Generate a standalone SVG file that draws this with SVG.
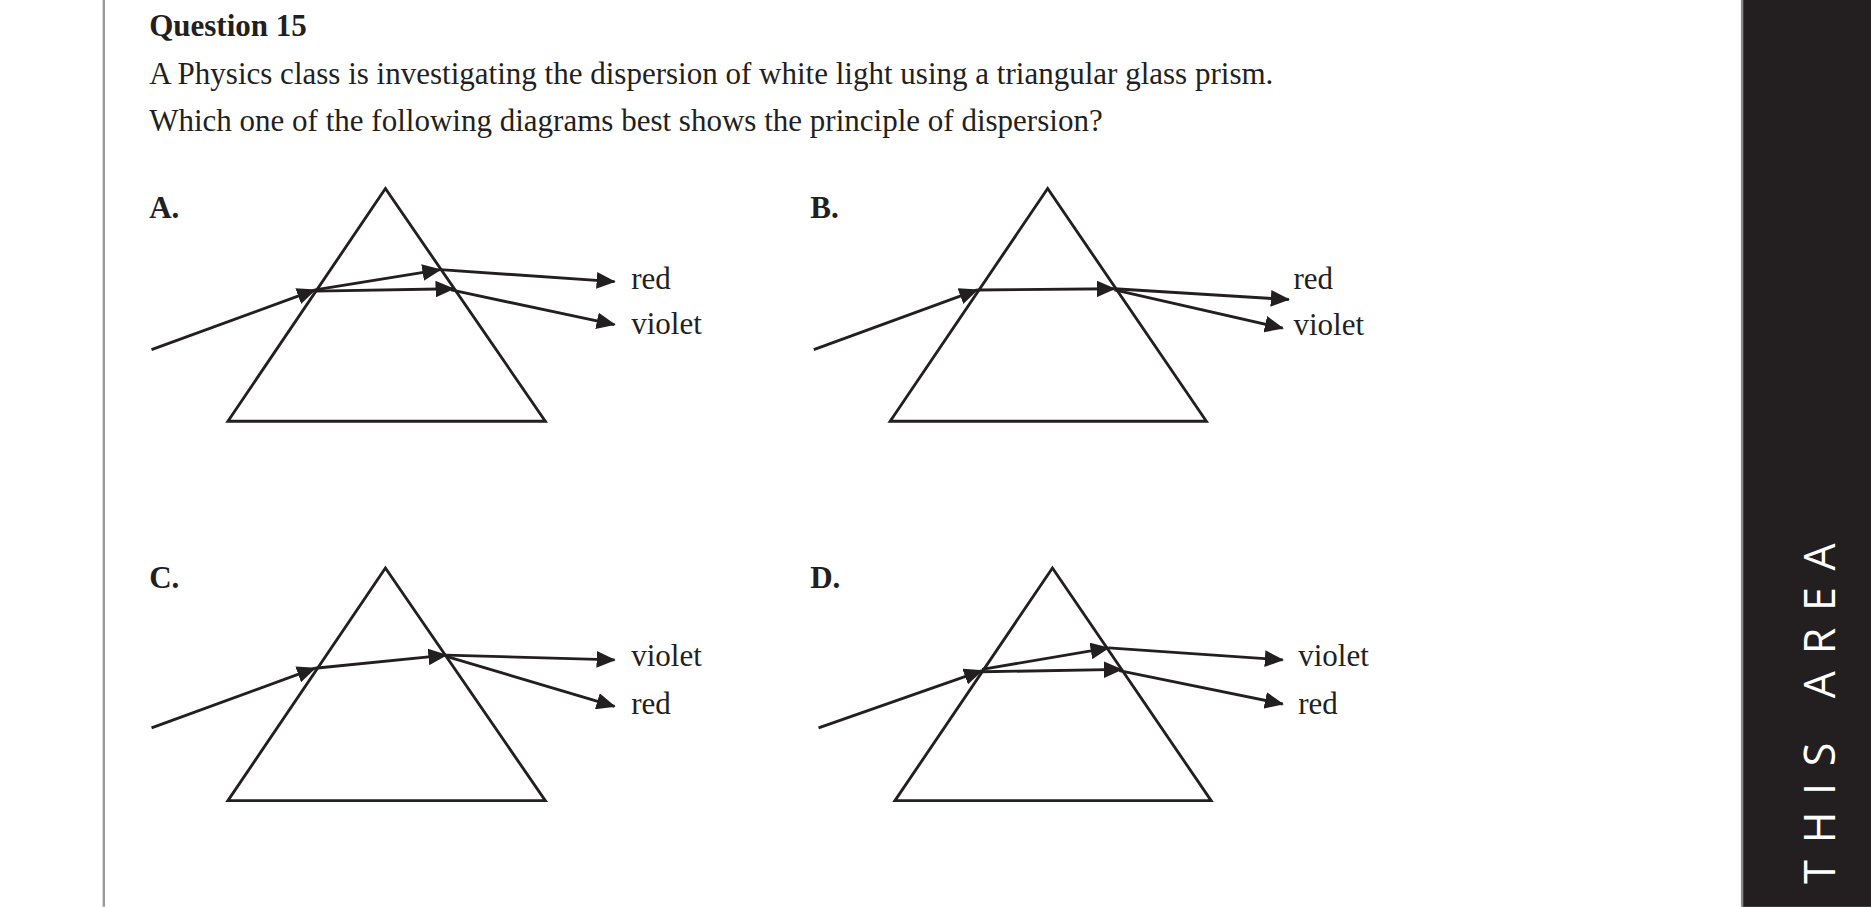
<svg xmlns="http://www.w3.org/2000/svg" width="1871" height="907" viewBox="0 0 1871 907">
<defs>
<marker id="ah" viewBox="0 0 16 14" refX="15" refY="7" markerWidth="16" markerHeight="14" markerUnits="userSpaceOnUse" orient="auto"><path d="M0,0 L16,7 L0,14 Z" fill="#231f20"/></marker>
<style>
.t{font-family:"Liberation Serif",serif;font-size:26px;fill:#231f20}
.b{font-weight:bold}
.p{fill:none;stroke:#231f20;stroke-width:2.4}
.r{stroke:#231f20;stroke-width:2.4;marker-end:url(#ah)}
</style>
</defs>
<rect width="1871" height="907" fill="#fff"/>
<g transform="scale(1.19324)">
<line x1="87" y1="0" x2="87" y2="760" stroke="#999" stroke-width="2"/>
<rect x="1460" y="0" width="108" height="760" fill="#231f20"/>
<line x1="1460" y1="0" x2="1460" y2="760" stroke="#888" stroke-width="2"/>
<text transform="translate(1538,591) rotate(-90)" text-anchor="middle" font-family="'Open Sans',sans-serif" font-size="36" fill="#fff" letter-spacing="14">THIS AREA</text>
<text class="t b" x="125" y="30">Question 15</text>
<text class="t" x="125" y="70">A Physics class is investigating the dispersion of white light using a triangular glass prism.</text>
<text class="t" x="125" y="110">Which one of the following diagrams best shows the principle of dispersion?</text>

<g id="A">
<text class="t b" x="125" y="183">A.</text>
<polygon class="p" points="323,158 191,353 457,353"/>
<text class="t" x="529" y="242">red</text>
<text class="t" x="529" y="280">violet</text>
</g>
<g id="B">
<text class="t b" x="679" y="183">B.</text>
<polygon class="p" points="878,158 746,353 1011,353"/>
<text class="t" x="1084" y="242">red</text>
<text class="t" x="1084" y="281">violet</text>
</g>
<g id="C">
<text class="t b" x="125" y="493">C.</text>
<polygon class="p" points="323,476 191,671 457,671"/>
<text class="t" x="529" y="558">violet</text>
<text class="t" x="529" y="598">red</text>
</g>
<g id="D">
<text class="t b" x="679" y="493">D.</text>
<polygon class="p" points="882,476 750,671 1015,671"/>
<text class="t" x="1088" y="558">violet</text>
<text class="t" x="1088" y="598">red</text>
</g>
<g id="connectors">
<line class="r" x1="127" y1="293" x2="264" y2="243"/>
<line class="r" x1="264" y1="243" x2="369" y2="226"/>
<line class="r" x1="264" y1="244" x2="380" y2="242"/>
<line class="r" x1="369" y1="226" x2="515" y2="236"/>
<line class="r" x1="378" y1="243" x2="515" y2="272"/>

<line class="r" x1="682" y1="293" x2="819" y2="243"/>
<line class="r" x1="819" y1="243" x2="934" y2="242"/>
<line class="r" x1="934" y1="242" x2="1080" y2="251"/>
<line class="r" x1="934" y1="243" x2="1075" y2="275"/>

<line class="r" x1="127" y1="610" x2="264" y2="560"/>
<line class="r" x1="264" y1="560" x2="374" y2="549"/>
<line class="r" x1="374" y1="549" x2="515" y2="553"/>
<line class="r" x1="374" y1="550" x2="515" y2="592"/>

<line class="r" x1="686" y1="610" x2="823" y2="562"/>
<line class="r" x1="823" y1="561" x2="929" y2="543"/>
<line class="r" x1="823" y1="563" x2="940" y2="561"/>
<line class="r" x1="929" y1="543" x2="1075" y2="553"/>
<line class="r" x1="938" y1="562" x2="1075" y2="590"/>
</g>
</g>
</svg>
